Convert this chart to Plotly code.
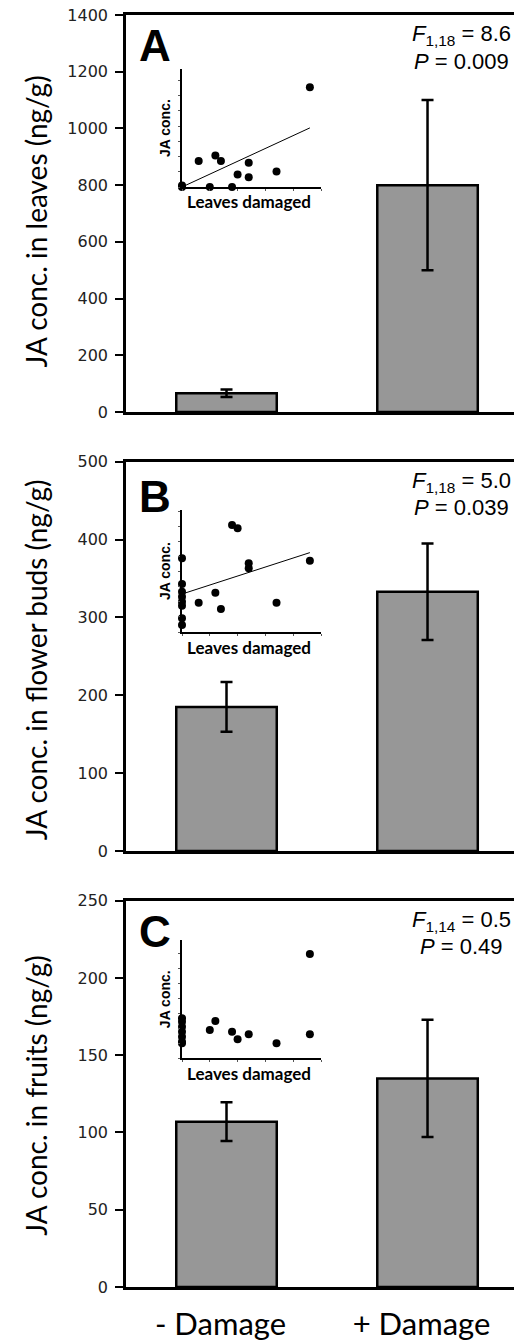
import plotly.graph_objects as go

# ---------------- data ----------------
categories = ["- Damage", "+ Damage"]

leaves_mean = [66, 800]
leaves_err = [13, 300]
buds_mean = [185, 333]
buds_err = [32, 62]
fruits_mean = [107, 135]
fruits_err = [12.5, 38]

stats_F = ["<i>F</i><sub>1,18</sub> = 8.6", "<i>F</i><sub>1,18</sub> = 5.0", "<i>F</i><sub>1,14</sub> = 0.5"]
stats_P = ["<i>P</i> = 0.009", "<i>P</i> = 0.039", "<i>P</i> = 0.49"]
panel_letters = ["A", "B", "C"]
y_titles = ["JA conc. in leaves (ng/g)", "JA conc. in flower buds (ng/g)", "JA conc. in fruits (ng/g)"]
y_max = [1400, 500, 250]
y_dtick = [200, 100, 50]

# inset scatter data: leaves damaged vs JA conc. (relative units)
insetA_x = [0, 0, 3, 5, 6, 7, 9, 10, 12, 12, 17, 23]
insetA_y = [0, 0.1, 1.71, 0, 2.07, 1.71, 0, 0.82, 1.6, 0.64, 1.02, 6.56]
insetA_fit = [0.0, 0.169]   # intercept, slope

insetB_x = [0, 0, 0, 0, 0, 0, 0, 0, 3, 6, 7, 9, 10, 12, 12, 17, 23]
insetB_y = [4.91, 3.2, 2.69, 2.35, 2.02, 1.75, 0.91, 0.47, 1.95, 2.62, 1.53, 7.13, 6.91, 4.58, 4.25, 1.95, 4.75]
insetB_fit = [2.53, 0.12]

insetC_x = [0, 0, 0, 0, 0, 0, 0, 5, 6, 9, 10, 12, 17, 23, 23]
insetC_y = [2.67, 2.44, 2.11, 1.77, 1.44, 1.11, 1.0, 1.89, 2.49, 1.77, 1.27, 1.6, 1.0, 6.95, 1.6]

inset_xmax = 25
inset_ymax = [7.76, 8.13, 7.89]

# ---------------- layout geometry ----------------
OFF = 8                      # page body margin offset
W, H = 522 - OFF, 1341 - OFF


def py(p):
    return 1 - (p - OFF) / H


def pxf(p):
    return (p - OFF) / W


panel_px = [(15, 412), (461.7, 851), (900.7, 1287)]
letter_dy = [4, 8, 4]
title_dy = [8, 4, 2]
inset_px = [(69, 187), (510, 632), (940, 1058.3)]
inset_x_px = (182, 321)

fig = go.Figure()

means = [leaves_mean, buds_mean, fruits_mean]
errs = [leaves_err, buds_err, fruits_err]

for i in range(3):
    ax = "" if i == 0 else str(i + 1)
    fig.add_trace(go.Bar(
        x=categories, y=means[i],
        xaxis="x" + ax, yaxis="y" + ax,
        width=0.5,
        marker=dict(color="#979797", line=dict(color="black", width=2.5)),
        error_y=dict(type="data", array=errs[i], color="black", thickness=2.5, width=6),
        showlegend=False, hoverinfo="skip",
    ))

insets = [(insetA_x, insetA_y, insetA_fit), (insetB_x, insetB_y, insetB_fit), (insetC_x, insetC_y, None)]
for i, (xs, ys, fit) in enumerate(insets):
    ax = str(i + 4)
    if fit is not None:
        x_end = max(xs)
        fig.add_trace(go.Scatter(
            x=[0, x_end], y=[fit[0], fit[0] + fit[1] * x_end],
            mode="lines", line=dict(color="black", width=1),
            xaxis="x" + ax, yaxis="y" + ax, showlegend=False, hoverinfo="skip",
        ))
    fig.add_trace(go.Scatter(
        x=xs, y=ys, mode="markers",
        marker=dict(color="black", size=8),
        cliponaxis=False,
        xaxis="x" + ax, yaxis="y" + ax, showlegend=False, hoverinfo="skip",
    ))

layout = dict(
    width=W, height=H,
    margin=dict(l=0, r=0, t=0, b=0, autoexpand=False),
    plot_bgcolor="white", paper_bgcolor="white",
    showlegend=False,
    bargap=0.5,
)

annotations = []
for i in range(3):
    ax = "" if i == 0 else str(i + 1)
    top, bot = panel_px[i]
    layout["xaxis" + ax] = dict(
        domain=[pxf(126), 1.0], anchor="y" + ax,
        range=[-0.5, 1.47], automargin=False,
        showline=True, linecolor="black", linewidth=2.5, mirror=True,
        ticks="", showgrid=False, zeroline=False,
        showticklabels=(i == 2),
        tickfont=dict(family="Lato", size=31, color="black"),
        ticklabelstandoff=8, ticklabelshift=-6, ticklabeloverflow="allow",
    )
    layout["yaxis" + ax] = dict(
        domain=[py(bot), py(top)], anchor="x" + ax,
        range=[0, y_max[i]], dtick=y_dtick[i], automargin=False,
        showline=True, linecolor="black", linewidth=2.5,
        ticks="outside", ticklen=8, tickwidth=2, tickcolor="black",
        showgrid=False, zeroline=False,
        tickfont=dict(family="DejaVu Sans", size=16, color="#222222"),
        ticklabelstandoff=4, ticklabeloverflow="allow",
    )
    annotations.append(dict(
        text=y_titles[i], textangle=-90, xref="paper", yref="paper",
        x=pxf(36), y=py((top + bot) / 2 + title_dy[i]), xanchor="center", yanchor="middle",
        showarrow=False, font=dict(family="Lato", size=28, color="black"),
    ))
    annotations.append(dict(
        text="<b>" + panel_letters[i] + "</b>", xref="paper", yref="paper",
        x=pxf(137), y=py(top + letter_dy[i]), xanchor="left", yanchor="top",
        showarrow=False, font=dict(family="Liberation Sans", size=44, color="black"),
    ))
    annotations.append(dict(
        text=stats_F[i], xref="paper", yref="paper",
        x=pxf(461), y=py(top + 20), xanchor="center", yanchor="middle",
        showarrow=False, font=dict(family="Liberation Sans", size=22, color="black"),
    ))
    annotations.append(dict(
        text=stats_P[i], xref="paper", yref="paper",
        x=pxf(461), y=py(top + 46), xanchor="center", yanchor="middle",
        showarrow=False, font=dict(family="Liberation Sans", size=22, color="black"),
    ))

    # insets
    ia = str(i + 4)
    itop, ibot = inset_px[i]
    layout["xaxis" + ia] = dict(
        domain=[pxf(inset_x_px[0]), pxf(inset_x_px[1])], anchor="y" + ia,
        range=[0, inset_xmax], dtick=5, automargin=False,
        showline=True, linecolor="black", linewidth=1.5,
        ticks="outside", ticklen=2, tickwidth=1, tickcolor="#555555",
        showticklabels=False, showgrid=False, zeroline=False,
    )
    layout["yaxis" + ia] = dict(
        domain=[py(ibot), py(itop)], anchor="x" + ia,
        range=[0, inset_ymax[i]], dtick=1, automargin=False,
        showline=True, linecolor="black", linewidth=1.5,
        ticks="outside", ticklen=2, tickwidth=1, tickcolor="#555555",
        showticklabels=False, showgrid=False, zeroline=False,
    )
    annotations.append(dict(
        text="<b>JA conc.</b>", textangle=-90, xref="paper", yref="paper",
        x=pxf(165), y=py((itop + ibot) / 2), xanchor="center", yanchor="middle",
        showarrow=False, font=dict(family="Liberation Sans", size=14, color="black"),
    ))
    annotations.append(dict(
        text="<b>Leaves damaged</b>", xref="paper", yref="paper",
        x=pxf(249), y=py(ibot + 15), xanchor="center", yanchor="middle",
        showarrow=False, font=dict(family="Lato", size=17, color="black"),
    ))

layout["annotations"] = annotations
fig.update_layout(**layout)

fig.write_html("out.html")
